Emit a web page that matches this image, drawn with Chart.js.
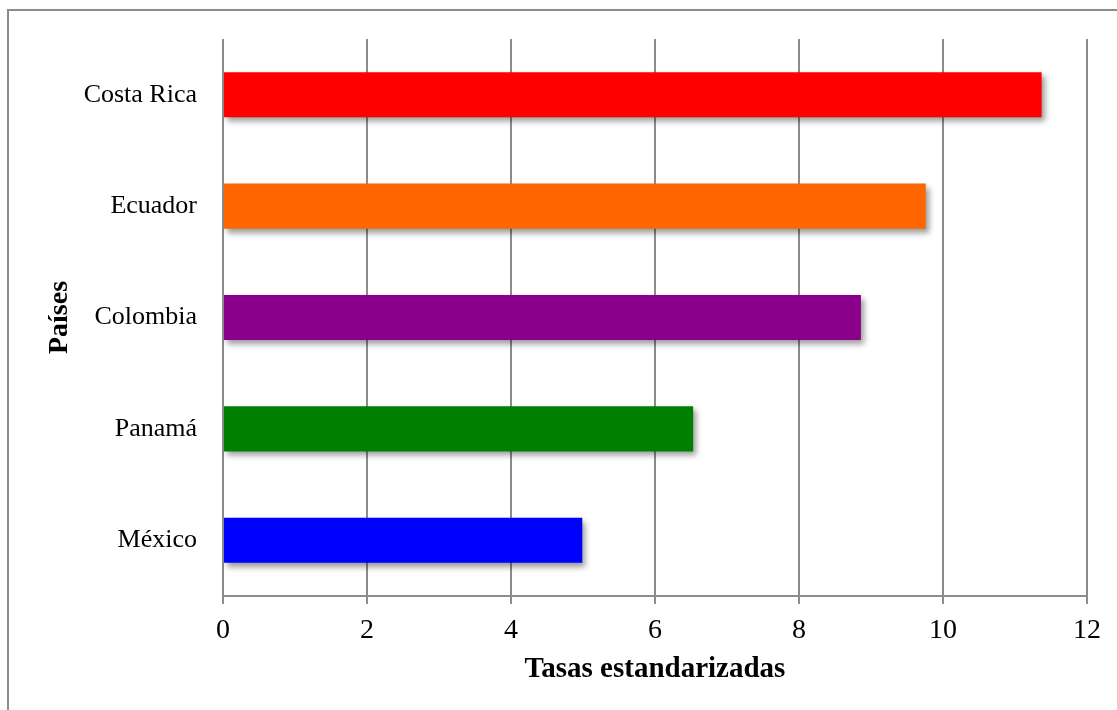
<!DOCTYPE html>
<html>
<head>
<meta charset="utf-8">
<script src="https://cdn.jsdelivr.net/npm/chart.js@4/dist/chart.umd.min.js"></script>
<style>
    html, body { margin: 0; padding: 0; background: #fff; }
    #wrap { width: 1117px; height: 710px; }
</style>
</head>
<body>
<div id="wrap"><canvas id="grafico" width="1117" height="710"></canvas></div>
<script>
// Datos
const paises = ['Costa Rica', 'Ecuador', 'Colombia', 'Panamá', 'México'];
const tasas = [11.37, 9.76, 8.86, 6.53, 4.99];
const colores = ['#ff0000', '#ff6600', '#8b008b', '#008000', '#0000ff'];
const ticksX = [0, 2, 4, 6, 8, 10, 12];

const fuente = "'Liberation Serif', 'DejaVu Serif', serif";
const gris = '#8c8c8c';

// Marco gris alrededor de la figura
const marco = {
    id: 'marco',
    beforeDraw(chart) {
        const ctx = chart.ctx;
        ctx.save();
        ctx.strokeStyle = gris;
        ctx.lineWidth = 2;
        ctx.strokeRect(8, 10, 1130, 720);
        ctx.restore();
    }
};

// Sombra de las barras
const sombra = {
    id: 'sombra',
    beforeDatasetsDraw(chart) {
        const ctx = chart.ctx;
        ctx.save();
        ctx.shadowColor = 'rgba(0, 0, 0, 0.4)';
        ctx.shadowBlur = 6;
        ctx.shadowOffsetX = 3;
        ctx.shadowOffsetY = 4;
    },
    afterDatasetsDraw(chart) {
        chart.ctx.restore();
    }
};

const ctx = document.getElementById('grafico').getContext('2d');

new Chart(ctx, {
    type: 'bar',
    data: {
        labels: paises,
        datasets: [{
            label: 'Tasas estandarizadas',
            data: tasas,
            backgroundColor: colores,
            borderWidth: 0,
            categoryPercentage: 1,
            barPercentage: 0.405
        }]
    },
    options: {
        indexAxis: 'y',
        responsive: false,
        animation: false,
        layout: {
            padding: { left: 39, right: 30, top: 39, bottom: 0 }
        },
        scales: {
            x: {
                min: 0,
                max: 12,
                afterBuildTicks: (scale) => {
                    scale.ticks = ticksX.map(v => ({ value: v }));
                },
                afterFit: (scale) => { scale.height = 114; },
                grid: {
                    color: gris,
                    lineWidth: 2,
                    drawTicks: true,
                    tickLength: 8,
                    tickColor: gris
                },
                border: { display: true, color: gris, width: 2 },
                ticks: {
                    color: '#000',
                    padding: 10,
                    font: { family: fuente, size: 28 }
                },
                title: {
                    display: true,
                    text: 'Tasas estandarizadas',
                    color: '#000',
                    padding: { top: 4, bottom: 23 },
                    font: { family: fuente, size: 29, weight: 'bold' }
                }
            },
            y: {
                afterFit: (scale) => { scale.width = 184; },
                grid: { display: false },
                border: { display: false },
                ticks: {
                    color: '#000',
                    padding: 18,
                    font: { family: fuente, size: 26 }
                },
                title: {
                    display: true,
                    text: 'Países',
                    color: '#000',
                    padding: { top: 4, bottom: 4 },
                    font: { family: fuente, size: 28, weight: 'bold' }
                }
            }
        },
        plugins: {
            legend: { display: false },
            title: { display: false },
            tooltip: { enabled: false }
        }
    },
    plugins: [marco, sombra]
});
</script>
</body>
</html>
